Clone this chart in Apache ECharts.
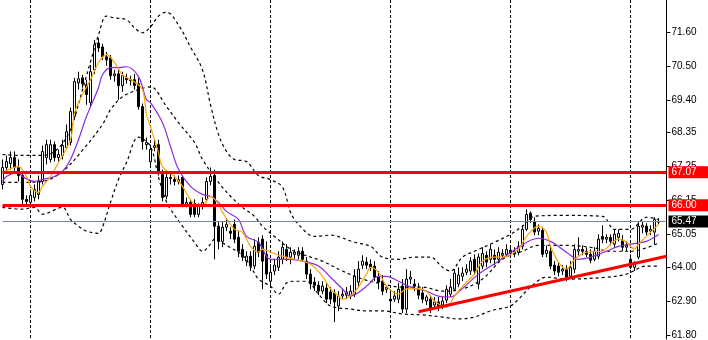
<!DOCTYPE html>
<html><head><meta charset="utf-8">
<script src="https://cdn.jsdelivr.net/npm/echarts@6/dist/echarts.min.js"></script>
<style>html,body{margin:0;padding:0;background:#fff}#c{width:708px;height:340px}</style>
</head><body><div id="c"></div>
<script>
// ---- candle data (one entry per bar) ----
const opens  = [66.67,67.22,67.35,67.54,67.22,66.96,66.19,66.09,66.25,66.35,66.77,67.54,67.48,67.96,67.54,67.61,67.87,68.03,68.87,69.96,70.12,69.90,69.32,70.38,71.25,71.12,70.80,70.77,70.19,70.25,69.87,70.12,70.06,70.06,69.93,69.19,67.96,67.41,67.87,67.96,66.99,66.29,66.86,66.83,66.77,66.90,66.03,66.09,66.06,65.70,66.00,66.19,66.77,66.96,65.32,64.83,65.29,65.16,65.38,64.96,64.57,64.19,64.35,64.03,64.80,64.90,64.41,63.54,63.87,63.99,64.25,64.57,64.32,64.41,64.38,64.51,64.19,63.77,63.51,63.41,63.22,63.32,63.19,63.16,62.74,63.06,63.09,63.09,63.12,63.51,64.06,64.16,64.09,64.03,63.67,63.54,63.28,62.96,62.96,62.96,63.38,62.64,63.61,63.45,63.28,63.16,62.90,62.96,62.77,62.87,62.77,62.93,63.12,63.28,63.45,63.70,63.83,63.87,64.25,63.45,64.03,64.38,64.25,64.38,64.25,64.38,64.41,64.54,64.44,64.48,64.67,65.22,65.74,65.48,65.16,65.19,64.44,64.51,64.06,64.03,63.87,63.93,63.70,63.93,64.51,64.57,64.51,64.41,64.25,64.35,64.99,64.90,64.96,64.74,64.96,64.86,64.64,64.25,63.99,64.32,65.29,65.32,65.16,65.13,65.45];
const closes = [67.22,67.41,67.54,67.22,66.96,66.19,66.12,66.32,66.51,66.77,67.74,67.96,67.96,67.54,67.64,67.93,68.38,69.03,70.00,70.09,69.93,69.58,70.32,71.19,71.09,70.80,70.70,70.19,70.25,69.87,70.19,70.06,70.03,69.87,69.19,68.06,68.03,67.80,67.93,67.06,66.25,66.90,66.90,66.77,66.83,66.03,66.09,65.70,65.70,65.96,66.09,66.77,66.93,65.32,64.83,65.29,65.38,65.09,64.90,64.51,64.32,64.35,64.03,64.67,64.48,64.19,63.77,63.83,64.06,64.32,64.64,64.32,64.48,64.48,64.51,64.25,63.77,63.45,63.41,63.22,63.38,62.96,62.96,62.87,63.06,63.12,63.19,63.22,63.70,63.93,64.19,64.06,63.99,63.67,63.51,63.22,63.35,62.90,63.06,63.28,62.64,63.61,63.67,63.38,63.09,62.96,63.03,62.64,62.87,62.74,62.90,63.28,63.35,63.80,63.74,63.80,63.93,64.19,63.87,64.32,64.44,64.16,64.57,64.25,64.48,64.44,64.57,64.44,64.51,64.67,65.22,65.70,65.54,65.13,65.25,64.41,64.54,64.03,63.87,63.83,63.93,63.67,63.99,64.57,64.57,64.51,64.41,64.22,64.51,64.90,64.90,64.96,64.83,65.06,65.09,64.64,64.70,63.99,64.09,65.32,65.35,65.13,65.22,65.54,65.48];
const lows   = [66.51,67.09,67.15,67.09,66.77,66.03,66.03,66.00,66.12,66.19,66.67,67.32,67.38,67.41,67.41,67.48,67.80,67.93,68.77,69.74,69.80,69.25,69.16,70.25,70.96,70.70,70.51,70.06,70.00,69.41,69.67,69.93,69.87,69.74,69.09,67.80,67.80,67.22,67.74,66.96,66.12,66.19,66.67,66.64,66.67,65.93,65.93,65.61,65.61,65.61,65.86,66.09,66.64,64.25,64.57,64.64,65.16,64.90,64.77,64.32,64.19,64.03,63.87,63.93,64.32,63.28,63.61,63.35,63.74,63.87,64.09,64.19,64.09,64.25,64.25,64.19,63.61,63.28,63.22,63.09,63.12,62.83,62.80,62.22,62.57,62.96,62.96,62.96,63.03,63.35,63.93,63.93,63.87,63.54,63.28,63.09,63.16,62.57,62.87,62.83,62.51,62.51,63.45,63.22,62.96,62.83,62.77,62.51,62.64,62.57,62.64,62.83,63.03,63.22,63.35,63.54,63.74,63.74,63.74,63.28,63.93,63.99,64.12,64.06,64.19,64.25,64.32,64.32,64.32,64.38,64.57,65.16,65.42,65.03,65.03,64.32,64.32,63.93,63.74,63.70,63.74,63.54,63.61,63.80,64.38,64.38,64.32,64.12,64.19,64.25,64.77,64.77,64.70,64.64,64.83,64.51,64.51,63.93,63.87,64.25,65.09,65.03,65.03,64.74,65.38];
const highs  = [67.48,67.61,67.74,67.74,67.48,67.09,66.32,66.51,66.67,66.96,67.93,68.12,68.12,68.06,67.80,68.12,68.61,69.16,70.12,70.32,70.22,70.06,70.54,71.35,71.41,71.22,70.96,70.86,70.38,70.38,70.32,70.25,70.19,70.25,70.12,69.29,68.19,67.96,68.12,68.12,67.15,67.09,67.03,66.96,66.96,66.96,66.25,66.19,66.19,66.06,66.25,66.90,67.22,67.15,65.48,65.48,65.54,65.29,65.54,65.16,64.74,64.51,64.51,64.90,64.96,65.03,64.83,64.09,64.25,64.51,64.83,64.74,64.64,64.57,64.64,64.64,64.32,63.93,63.67,63.54,63.54,63.48,63.35,63.28,63.22,63.28,63.35,63.41,63.93,64.19,64.38,64.32,64.25,64.19,63.87,63.74,63.41,63.28,63.22,63.48,63.61,63.93,63.87,63.61,63.48,63.35,63.09,63.09,63.03,63.03,63.03,63.41,63.61,63.93,63.99,63.99,64.09,64.32,64.41,64.44,64.64,64.51,64.74,64.57,64.64,64.57,64.74,64.70,64.64,64.83,65.35,65.86,65.80,65.61,65.38,65.29,64.70,64.67,64.19,64.16,64.06,64.06,64.19,64.74,64.96,64.70,64.64,64.57,64.64,65.06,65.35,65.06,65.06,65.22,65.22,65.03,64.83,64.41,64.19,65.45,65.48,65.42,65.35,65.61,65.58];

// ---- indicator lines: [bar index, price] ----
const fastMA = [[0,67.06],[4,67.25],[6,66.93],[7,66.61],[9,66.41],[10,66.61],[12,66.93],[14,67.38],[17,68.12],[18,68.99],[20,69.58],[22,70.06],[24,70.61],[26,70.87],[28,70.61],[30,70.22],[33,69.99],[35,69.74],[36,68.93],[37,68.54],[39,67.70],[40,67.25],[43,66.93],[45,66.61],[48,66.03],[50,65.99],[52,66.29],[54,66.03],[55,65.77],[58,65.22],[60,65.12],[62,64.67],[64,64.48],[65,64.58],[67,64.48],[70,64.35],[73,64.25],[77,64.09],[80,63.70],[82,63.29],[84,63.06],[85,62.96],[88,63.19],[91,63.77],[92,63.99],[94,63.83],[96,63.38],[99,63.12],[101,63.29],[104,63.29],[106,63.22],[108,62.90],[110,62.74],[111,62.70],[113,63.06],[116,63.51],[118,63.77],[120,64.19],[123,64.32],[125,64.32],[129,64.58],[131,64.99],[134,65.32],[136,65.12],[137,64.67],[139,64.16],[141,63.93],[143,64.25],[146,64.48],[150,64.51],[152,64.74],[154,64.90],[156,64.80],[158,64.58],[159,64.74],[162,65.12],[164,65.38]];
const slowMA = [[0,66.77],[1,66.93],[4,67.06],[5,66.93],[8,66.77],[10,66.83],[13,66.93],[15,67.09],[17,67.48],[19,68.12],[21,68.87],[24,69.80],[25,70.22],[27,70.45],[29,70.45],[31,70.48],[34,70.16],[36,69.41],[37,69.32],[40,68.67],[42,67.90],[44,67.16],[47,66.61],[50,66.35],[52,66.29],[54,66.09],[56,65.80],[59,65.54],[61,64.99],[64,64.80],[67,64.25],[72,64.25],[75,64.19],[79,64.03],[82,63.67],[85,63.29],[87,63.06],[91,63.38],[94,63.70],[96,63.70],[99,63.54],[102,63.35],[106,63.22],[109,63.06],[112,63.03],[114,63.19],[119,63.77],[124,64.19],[129,64.64],[134,64.93],[137,64.83],[141,64.48],[144,64.25],[147,64.32],[151,64.51],[154,64.67],[157,64.74],[161,64.83],[164,65.05]];
const bbUpper = [[0,67.64],[5,67.61],[10,67.61],[13,67.74],[16,68.19],[18,68.83],[20,69.74],[22,70.64],[24,71.51],[26,72.12],[28,72.06],[31,72.00],[33,71.74],[35,71.58],[37,71.77],[39,72.12],[41,72.25],[44,71.83],[47,71.12],[50,70.38],[52,69.25],[54,68.29],[56,67.74],[58,67.48],[61,67.41],[64,66.96],[67,66.83],[70,66.58],[72,65.77],[74,65.38],[78,64.99],[82,65.03],[88,64.80],[92,64.67],[95,64.32],[99,64.25],[103,64.32],[107,64.32],[110,63.99],[112,63.87],[115,64.32],[118,64.51],[123,64.80],[127,65.06],[130,65.32],[133,65.64],[140,65.67],[150,65.64],[153,65.22],[157,65.22],[161,65.61],[164,65.54]];
const bbMiddle = [[0,66.74],[5,66.74],[10,66.77],[15,67.09],[20,67.78],[25,68.61],[27,69.09],[30,69.51],[34,69.74],[37,69.83],[41,69.19],[44,68.67],[48,68.03],[50,67.48],[54,66.74],[57,66.29],[60,65.93],[63,65.64],[65,65.32],[68,64.99],[72,64.58],[75,64.41],[80,64.19],[85,63.87],[90,63.61],[95,63.45],[100,63.35],[105,63.35],[110,63.22],[115,63.29],[120,63.61],[125,64.25],[130,64.51],[134,64.70],[140,64.70],[147,64.64],[152,64.51],[157,64.51],[164,64.77]];
const bbLower = [[0,65.93],[5,65.87],[8,65.93],[10,65.71],[15,65.93],[17,65.54],[19,65.32],[21,65.16],[24,65.09],[25,65.29],[27,66.09],[29,66.83],[31,67.38],[34,68.20],[37,67.90],[39,66.90],[41,66.10],[42,65.87],[45,65.32],[48,64.80],[50,64.51],[52,64.74],[53,64.90],[56,64.70],[60,64.38],[62,64.03],[64,63.61],[67,63.38],[69,63.12],[71,63.48],[73,63.54],[76,63.54],[79,63.12],[82,62.74],[87,62.64],[91,62.58],[95,62.58],[100,62.48],[105,62.45],[110,62.38],[114,62.32],[118,62.38],[122,62.58],[127,62.74],[129,62.96],[132,63.35],[136,63.67],[141,63.61],[151,63.67],[156,63.77],[161,64.03],[164,64.03]];

// ---- levels, trend line, axis ----
const levelLines = [67.07, 66.00];
const lastPrice = 65.47;
const trendLine = [[104,62.55],[166,64.35]];
const yTicks = [61.80,62.90,64.00,65.05,66.15,67.25,68.35,69.40,70.50,71.60];
const slotCount = 167;
const separators = [7,37,67,97,127,157];

const cats = Array.from({length: slotCount}, (_, i) => String(i));
const candles = opens.map((o, i) => [o, closes[i], lows[i], highs[i]]);
const FONT = 'Liberation Sans';

function lineSeries(data, color, dashed) {
  return {
    type: 'line', data: data, symbol: 'none', smooth: 0.35, z: 3, silent: true,
    lineStyle: { color: color, width: 1.2, type: dashed ? [3, 3] : 'solid' }
  };
}
const lbl = (txt, bg) => ({
  show: true, position: 'end', distance: 2, formatter: txt, color: '#fff',
  backgroundColor: bg, padding: [1, 12, 0, 3], fontFamily: FONT, fontSize: 10, lineHeight: 11
});

const chart = echarts.init(document.getElementById('c'), null, { renderer: 'canvas' });
chart.setOption({
  animation: false,
  backgroundColor: '#fff',
  grid: { left: 2.5, right: 708 - 666.5, top: 0, bottom: 0 },
  xAxis: {
    type: 'category', data: cats, boundaryGap: false,
    axisLine: { show: false }, axisTick: { show: false }, axisLabel: { show: false },
    splitLine: { show: true, interval: (i) => separators.includes(i),
      lineStyle: { color: '#000', width: 1, type: [3, 2] } }
  },
  yAxis: {
    type: 'value', position: 'right', min: 61.67, max: 72.64,
    axisLine: { show: true, lineStyle: { color: '#000', width: 1 } },
    axisTick: { show: true, customValues: yTicks, length: 4, lineStyle: { color: '#000' } },
    axisLabel: { show: true, customValues: yTicks, formatter: (v) => Number(v).toFixed(2),
      color: '#000', fontFamily: FONT, fontSize: 10, margin: 5 },
    splitLine: { show: false }
  },
  series: [
    {
      type: 'candlestick', data: candles, barWidth: 3, z: 2, silent: true,
      itemStyle: { color: '#fff', color0: '#000', borderColor: '#000', borderColor0: '#000',
        borderColorDoji: '#000', borderWidth: 1 }
    },
    lineSeries(bbUpper, '#000', true),
    lineSeries(bbMiddle, '#000', true),
    lineSeries(bbLower, '#000', true),
    lineSeries(slowMA, '#8a2be2', false),
    lineSeries(fastMA, '#ffa500', false),
    {
      type: 'line', data: trendLine, symbol: 'none', z: 4, silent: true,
      lineStyle: { color: '#ff0000', width: 3 }
    },
    {
      type: 'line', data: [], clip: false, z: 6, silent: true,
      markLine: {
        silent: true, symbol: ['none', 'none'], animation: false,
        data: [
          { yAxis: levelLines[0], lineStyle: { color: '#ff0000', width: 3, type: 'solid' }, label: lbl(levelLines[0].toFixed(2), '#ff0000') },
          { yAxis: levelLines[1], lineStyle: { color: '#ff0000', width: 3, type: 'solid' }, label: lbl(levelLines[1].toFixed(2), '#ff0000') },
          { yAxis: lastPrice, lineStyle: { color: '#778899', width: 1, type: 'solid' }, label: lbl(lastPrice.toFixed(2), '#000') }
        ]
      }
    }
  ]
});
</script></body></html>
